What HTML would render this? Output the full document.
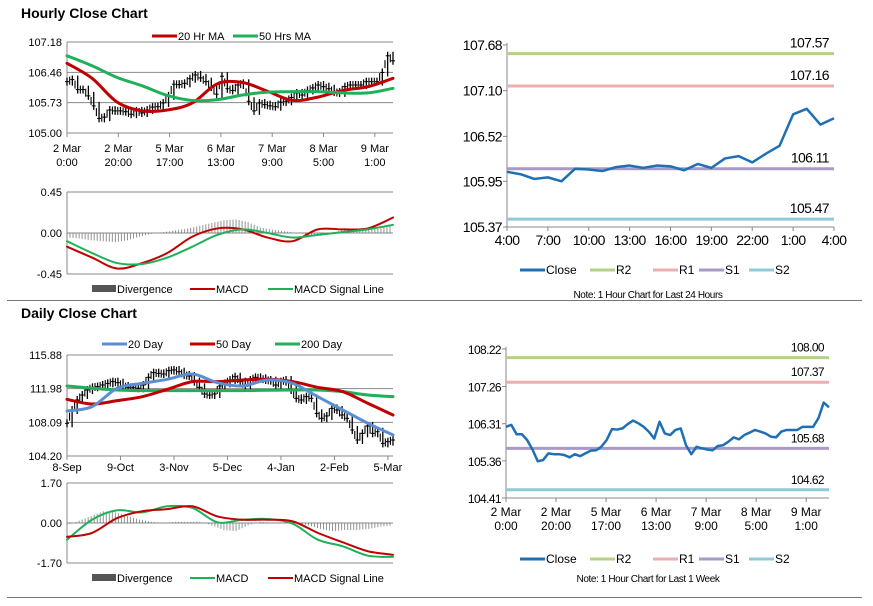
<!DOCTYPE html>
<html><head><meta charset="utf-8"><style>
body{margin:0;background:#fff;width:873px;height:601px;overflow:hidden}
svg{font-family:"Liberation Sans",sans-serif}
</style></head><body>
<svg id="s" width="873" height="601" xmlns="http://www.w3.org/2000/svg"></svg>
<script>
// ---- Hourly (top-left) ----
const hTicks=["2 Mar|0:00","2 Mar|20:00","5 Mar|17:00","6 Mar|13:00","7 Mar|9:00","8 Mar|5:00","9 Mar|1:00"];
const wkClose=[106.23,106.28,106.04,106.04,105.89,105.65,105.35,105.38,105.55,105.53,105.53,105.51,105.45,105.53,105.48,105.55,105.62,105.63,105.72,105.89,106.17,106.16,106.19,106.30,106.39,106.32,106.23,106.10,105.93,106.36,106.06,106.02,106.15,106.19,105.76,105.53,105.72,105.68,105.65,105.63,105.74,105.76,105.85,105.96,105.91,106.02,106.08,106.15,106.11,106.06,105.98,105.96,106.11,106.15,106.15,106.15,106.23,106.23,106.23,106.45,106.85,106.73];
const ma20h=[106.67,106.31,105.74,105.53,105.55,105.72,106.18,106.21,106.00,105.78,105.86,106.02,106.11,106.31];
const ma50h=[106.85,106.61,106.33,106.13,105.90,105.78,105.80,105.91,105.98,105.99,105.99,105.96,105.96,106.07];
const hPriceTicks=["107.18","106.46","105.73","105.00"];
const macdH=[-0.15,-0.27,-0.39,-0.33,-0.22,-0.04,0.05,0.04,-0.05,-0.09,0.04,0.04,0.05,0.17];
const sigH=[-0.09,-0.22,-0.33,-0.34,-0.27,-0.15,-0.02,0.04,0.00,-0.05,-0.02,0.01,0.04,0.09];
const divH=[-0.05,-0.06,-0.08,-0.09,-0.10,-0.08,-0.04,-0.01,0.01,0.03,0.05,0.08,0.11,0.14,0.15,0.12,0.06,0.04,0.02,0.0,-0.02,-0.03,0.0,0.04,0.04,0.03,0.05,0.08];
// ---- 24h (top-right) ----
const dayTicks=["4:00","7:00","10:00","13:00","16:00","19:00","22:00","1:00","4:00"];
const close24=[106.07,106.04,105.98,106.00,105.95,106.11,106.10,106.08,106.13,106.15,106.12,106.15,106.14,106.09,106.17,106.12,106.24,106.27,106.19,106.30,106.40,106.80,106.87,106.67,106.75];
const levels24=[107.57,107.16,106.11,105.47];
const yTicks24=["107.68","107.10","106.52","105.95","105.37"];
const levels1w=[108.00,107.37,105.68,104.62];
const yTicks1w=["108.22","107.26","106.31","105.36","104.41"];
// ---- Daily ----
const dTicks=["8-Sep","9-Oct","3-Nov","5-Dec","4-Jan","2-Feb","5-Mar"];
const dClose=[107.98,109.52,110.68,111.25,111.83,112.14,112.22,112.41,112.60,112.80,112.68,112.30,112.14,112.14,112.03,112.41,113.30,113.84,113.76,113.68,114.07,114.15,113.95,113.57,113.45,112.80,112.14,111.37,111.25,111.37,112.30,112.60,112.99,113.37,112.80,112.30,112.99,113.30,113.18,112.99,112.91,112.41,112.80,112.99,111.83,110.87,110.68,111.06,110.87,109.13,108.56,108.83,109.71,109.52,108.94,108.56,107.21,106.05,106.82,107.67,106.82,107.01,105.66,105.86,106.05];
const ma20d=[109.40,109.91,112.03,112.60,113.07,113.68,112.68,112.30,112.99,112.60,111.06,109.52,107.98,106.63];
const ma50d=[110.75,110.21,110.60,111.06,111.91,112.80,112.80,112.99,113.07,112.80,112.14,111.64,110.29,108.94];
const ma200d=[112.30,112.03,111.83,111.76,111.76,111.76,111.76,111.76,111.80,111.83,111.83,111.64,111.25,111.06];
const dPriceTicks=["115.88","111.98","108.09","104.20"];
const macdD=[-0.71,0.14,0.54,0.45,0.71,0.64,0.03,0.14,0.17,-0.03,-0.71,-0.99,-1.39,-1.44];
const sigD=[-0.59,-0.42,0.21,0.50,0.59,0.71,0.28,0.14,0.14,0.07,-0.42,-0.82,-1.20,-1.35];
const divD=[-0.1,0.1,0.3,0.5,0.45,0.3,0.15,0.05,0.0,0.05,0.05,0.05,-0.1,-0.3,-0.35,-0.1,0.05,0.02,0.03,0.02,-0.1,-0.25,-0.35,-0.3,-0.3,-0.25,-0.15,-0.1];

const S=document.getElementById('s'),NS="http://www.w3.org/2000/svg";
function el(t,a,p){const e=document.createElementNS(NS,t);for(const k in a)e.setAttribute(k,a[k]);(p||S).appendChild(e);return e;}
function txt(x,y,s,a,p){const e=el('text',Object.assign({x:x,y:y,'font-size':12,fill:'#000'},a||{}),p);e.textContent=s;return e;}
function lin(x0,x1,v0,v1,y0,y1){return v=>y0+(v-v0)/(v1-v0)*(y1-y0);}
function grp(name){const g=el('g',{});return g;}
function poly(arr,xf,yf,col,w,g,name){const p=el('polyline',{points:arr.map((v,i)=>xf(i)+','+yf(v)).join(' '),fill:'none',stroke:col,'stroke-width':w,'stroke-linejoin':'round'},g);return p;}
function smooth(arr,xf,yf,col,w,g,name){const P=arr.map((v,i)=>[xf(i),yf(v)]);let d='M'+P[0][0]+','+P[0][1];
 for(let i=0;i<P.length-1;i++){const p0=P[Math.max(i-1,0)],p1=P[i],p2=P[i+1],p3=P[Math.min(i+2,P.length-1)];
  d+=' C'+(p1[0]+(p2[0]-p0[0])/6)+','+(p1[1]+(p2[1]-p0[1])/6)+' '+(p2[0]-(p3[0]-p1[0])/6)+','+(p2[1]-(p3[1]-p1[1])/6)+' '+p2[0]+','+p2[1];}
 const p=el('path',{d:d,fill:'none',stroke:col,'stroke-width':w,'stroke-linecap':'round'},g);return p;}
function legend(items,y,g,fs){items.forEach(it=>{const gi=el('g',{},g);
 if(it.box)el('rect',{x:it.x,y:y-4,width:24,height:7,fill:'#555'},gi);else el('line',{x1:it.x,x2:it.x+25,y1:y,y2:y,stroke:it.c,'stroke-width':it.w||3},gi);
 txt(it.x+(it.box?25:26),y+4,it.t,{'font-size':fs||11},gi);});}

txt(21,18,"Hourly Close Chart",{'font-size':14,'font-weight':'bold'});
txt(21,318,"Daily Close Chart",{'font-size':14,'font-weight':'bold'});
el('line',{x1:7,x2:862,y1:300.5,y2:300.5,stroke:'#777','stroke-width':1});
el('line',{x1:7,x2:862,y1:597.5,y2:597.5,stroke:'#777','stroke-width':1});

function pricePanel(name,x0,x1,yTop,yBot,tickVals,close,mas,ticks,tickStep,legendItems,legY,labelY){
 const g=grp(name);const vTop=+tickVals[0],vBot=+tickVals[tickVals.length-1];const yf=lin(0,0,vTop,vBot,yTop,yBot);
 tickVals.forEach((t,i)=>{const y=yTop+i*(yBot-yTop)/(tickVals.length-1);el('line',{x1:x0,x2:x1,y1:y,y2:y,stroke:'#888','stroke-width':1},g);
  txt(x0-5,y+4,t,{'text-anchor':'end','font-size':11},g);});
 el('line',{x1:x0,x2:x0,y1:yTop,y2:yBot,stroke:'#888'},g);
 const n=close.length,xf=i=>x0+i*(x1-x0)/(n-1);
 close.forEach((v,i)=>{const p=i?close[i-1]:v;const b=el('line',{x1:xf(i),x2:xf(i),y1:yf(Math.max(p,v))-4,y2:yf(Math.min(p,v))+4,stroke:'#000','stroke-width':1.3},g);
  el('line',{x1:xf(i)-2,x2:xf(i)+2,y1:yf(v),y2:yf(v),stroke:'#000'},g);
  if(i){const xm=(xf(i)+xf(i-1))/2;const m=el('line',{x1:xm,x2:xm,y1:yf((p+v)/2)-4,y2:yf((p+v)/2)+4,stroke:'#000','stroke-width':1.1},g);}});
 mas.forEach(m=>smooth(m.d,i=>x0+i*(x1-x0)/(m.d.length-1),yf,m.c,3,g,m.n));
 const tx=k=>x0+k*tickStep*(x1-x0)/(n-1);
 ticks.forEach((t,k)=>{const x=tx(k);el('line',{x1:x,x2:x,y1:yBot,y2:yBot+4,stroke:'#888'},g);const pr=t.split('|');
  txt(x,labelY,pr[0],{'text-anchor':'middle','font-size':11},g);if(pr[1])txt(x,labelY+14,pr[1],{'text-anchor':'middle','font-size':11},g);});
 legend(legendItems,legY,g);
}
function macdPanel(name,x0,x1,yTop,yBot,tickVals,l1,c1,n1,l2,c2,n2,div,legY,legItems){
 const g=grp(name);const vTop=+tickVals[0],vBot=+tickVals[2];const yf=lin(0,0,vTop,vBot,yTop,yBot);
 tickVals.forEach((t,i)=>{const y=yTop+i*(yBot-yTop)/2;el('line',{x1:x0,x2:x1,y1:y,y2:y,stroke:'#888'},g);txt(x0-5,y+4,t,{'text-anchor':'end','font-size':11},g);});
 el('line',{x1:x0,x2:x0,y1:yTop,y2:yBot,stroke:'#888'},g);
 const nd=div.length;const dx=(x1-x0)/(nd-1);
 for(let i=0;i<nd-1;i++){for(let j=0;j<4;j++){const f=j/4,v=div[i]*(1-f)+div[i+1]*f,x=x0+(i+f)*dx;
  const b=el('line',{x1:x,x2:x,y1:yf(0),y2:yf(v),stroke:'#777','stroke-width':0.8},g);}}
 const xf=i=>x0+i*(x1-x0)/(l1.length-1);
 smooth(l1,xf,yf,c1,2,g,n1);smooth(l2,xf,yf,c2,2,g,n2);
 legend(legItems,legY,g);
}
const R='#c00000',G='#1fb05a',B='#5b8fd1';
pricePanel('hourly-price-chart',67,393,42,133,hPriceTicks,wkClose,[{d:ma20h,c:R,n:'ma20-line'},{d:ma50h,c:G,n:'ma50-line'}],hTicks,9.6,
 [{x:152,c:R,t:'20 Hr MA'},{x:233,c:G,t:'50 Hrs MA'}],36,152);
macdPanel('hourly-macd-chart',67,393,192,274,["0.45","0.00","-0.45"],macdH,R,'macd-line',sigH,G,'signal-line',divH,289,
 [{x:92,box:1,t:'Divergence'},{x:190,c:R,w:2,t:'MACD'},{x:268,c:G,w:2,t:'MACD Signal Line'}]);
pricePanel('daily-price-chart',67,393,355,456,dPriceTicks,dClose,[{d:ma200d,c:G,n:'ma200-line'},{d:ma50d,c:R,n:'ma50-line'},{d:ma20d,c:B,n:'ma20-line'}],dTicks,10.5,
 [{x:102,c:B,t:'20 Day'},{x:190,c:R,t:'50 Day'},{x:275,c:G,t:'200 Day'}],344,471);
macdPanel('daily-macd-chart',67,393,483,563,["1.70","0.00","-1.70"],macdD,G,'macd-line',sigD,R,'signal-line',divD,578,
 [{x:92,box:1,t:'Divergence'},{x:190,c:G,w:2,t:'MACD'},{x:268,c:R,w:2,t:'MACD Signal Line'}]);

const LC=['#b5d08a','#eab0b0','#a999c9','#8fcbd6'];
function levelChart(name,x0,x1,yTop,yBot,yTicks,levels,close,ticks,tickStep,two,legY,note,noteY,noteX,fs){
 const g=grp(name);const yf=lin(0,0,+yTicks[0],+yTicks[yTicks.length-1],yTop,yBot);
 el('line',{x1:x0,x2:x0,y1:yTop-2,y2:yBot,stroke:'#888'},g);el('line',{x1:x0,x2:x1,y1:yBot,y2:yBot,stroke:'#888'},g);
 yTicks.forEach(t=>{const y=yf(+t);el('line',{x1:x0-4,x2:x0,y1:y,y2:y,stroke:'#888'},g);txt(x0-5,y+5,t,{'text-anchor':'end','font-size':fs,'letter-spacing':-0.6},g);});
 levels.forEach((v,i)=>{const l=el('line',{x1:x0,x2:x1,y1:yf(v),y2:yf(v),stroke:LC[i],'stroke-width':3},g);
  txt(x1-5,yf(v)-6,v.toFixed(2),{'text-anchor':'end','font-size':fs,'letter-spacing':-0.6},g);});
 const n=close.length,xf=i=>x0+i*(x1-x0)/(n-1);
 poly(close,xf,yf,'#1f6fb5',2.5,g,'close-line');
 ticks.forEach((t,k)=>{const x=xf(k*tickStep);el('line',{x1:x,x2:x,y1:yBot,y2:yBot+4,stroke:'#888'},g);const pr=t.split('|');
  txt(x,yBot+18,pr[0],{'text-anchor':'middle','font-size':fs,'letter-spacing':two?0:-0.6},g);if(pr[1])txt(x,yBot+32,pr[1],{'text-anchor':'middle','font-size':fs},g);});
 legend([{x:520,c:'#1f6fb5',t:'Close'},{x:590,c:LC[0],t:'R2'},{x:653,c:LC[1],t:'R1'},{x:699,c:LC[2],t:'S1'},{x:749,c:LC[3],t:'S2'}],legY,g,12);
 txt(noteX,noteY,note,{'text-anchor':'middle','font-size':10,'letter-spacing':-0.4},g);
}
levelChart('chart-24h',507,834,45,227,yTicks24,levels24,close24,dayTicks,3,false,270,'Note: 1 Hour Chart for Last 24 Hours',298,648,14);
levelChart('chart-1week',506,829,349,498,yTicks1w,levels1w,wkClose,hTicks,9.45,true,559,'Note: 1 Hour Chart for Last 1 Week',582,648,12);
</script>
</body></html>
